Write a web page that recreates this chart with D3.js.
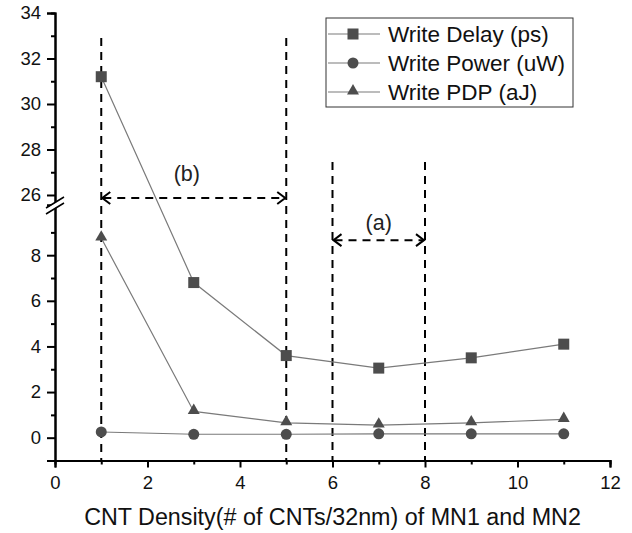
<!DOCTYPE html>
<meta charset="utf-8">
<script src="https://cdn.jsdelivr.net/npm/d3@7"></script>
<style>
  body { margin: 0; background: #fff; }
  text { font-family: Arial, "Liberation Sans", sans-serif; }
</style>
<body>
<script>

var width = 632
var height = 533

// data
var density = [1, 3, 5, 7, 9, 11]
var writeDelay = [31.2, 6.8, 3.6, 3.05, 3.5, 4.1]
var writePower = [0.25, 0.15, 0.15, 0.17, 0.17, 0.17]
var writePDP = [8.75, 1.15, 0.65, 0.55, 0.65, 0.8]
var seriesNames = ["Write Delay (ps)", "Write Power (uW)", "Write PDP (aJ)"]
var xTicks = [0, 2, 4, 6, 8, 10, 12]
var yTicksLow = [0, 2, 4, 6, 8]
var yTicksHigh = [26, 28, 30, 32, 34]

// annotation guides (x value, top value)
var guideX = [1, 5, 6, 8]
var guideTop = [32.9, 32.9, 27.45, 27.45]
var spans = [
  {from: 1, to: 5, y: 25.87, label: "(b)", lx: 2.85, ly: 26.6},
  {from: 6, to: 8, y: 8.66, label: "(a)", lx: 7.0, ly: 9.1}
]

var x = d3.scaleLinear().domain([0, 12]).range([55, 610])
var breakY = 205
var yUp = d3.scaleLinear().domain([25.56, 34]).range([breakY, 13])
var yLo = d3.scaleLinear().domain([-1, 10.2]).range([460.5, breakY])
function y(v) { return v > 17 ? yUp(v) : yLo(v) }

var svg = d3.select("body").append("svg")
  .attr("width", width).attr("height", height)

// guide lines
var guides = svg.append("g").attr("stroke", "#000").attr("stroke-width", 2)
  .attr("stroke-dasharray", "8,6").attr("fill", "none")
guideX.forEach(function(g, i) {
  guides.append("line").attr("x1", x(g)).attr("x2", x(g))
    .attr("y1", y(guideTop[i])).attr("y2", yLo(-1))
})
spans.forEach(function(s) {
  var yy = y(s.y), x1 = x(s.from), x2 = x(s.to)
  guides.append("line").attr("x1", x1 + 2).attr("x2", x2 - 2).attr("y1", yy).attr("y2", yy)
  svg.append("path")
    .attr("d", "M" + (x1 + 9) + "," + (yy - 6) + "L" + (x1 + 1) + "," + yy + "L" + (x1 + 9) + "," + (yy + 6)
      + "M" + (x2 - 9) + "," + (yy - 6) + "L" + (x2 - 1) + "," + yy + "L" + (x2 - 9) + "," + (yy + 6))
    .attr("stroke", "#000").attr("stroke-width", 2).attr("fill", "none")
  svg.append("text").attr("x", x(s.lx)).attr("y", y(s.ly))
    .attr("text-anchor", "middle").attr("font-size", 21.5).attr("fill", "#222").text(s.label)
})

// series
var lineGen = d3.line().x(function(d) { return x(d[0]) }).y(function(d) { return y(d[1]) })
var series = [writeDelay, writePower, writePDP]
var markerColor = "#4d4d4d"
var lineColor = "#7a7a7a"

function marker(g, type, cx, cy) {
  if (type == 0) {
    g.append("rect").attr("x", cx - 5.5).attr("y", cy - 5.5).attr("width", 11).attr("height", 11).attr("fill", markerColor)
  } else if (type == 1) {
    g.append("circle").attr("cx", cx).attr("cy", cy).attr("r", 5.5).attr("fill", markerColor)
  } else {
    g.append("path").attr("d", d3.symbol().type(d3.symbolTriangle).size(62)())
      .attr("transform", "translate(" + cx + "," + (cy - 1) + ")").attr("fill", markerColor)
  }
}

series.forEach(function(vals, k) {
  var pts = density.map(function(d, i) { return [d, vals[i]] })
  svg.append("path").attr("d", lineGen(pts)).attr("stroke", lineColor).attr("stroke-width", 1.2).attr("fill", "none")
  var g = svg.append("g")
  pts.forEach(function(p) { marker(g, k, x(p[0]), y(p[1])) })
})

// axes
svg.append("g").attr("transform", "translate(0," + yLo(-1) + ")")
  .call(d3.axisBottom(x).tickValues(xTicks).tickSize(7).tickPadding(8).tickFormat(d3.format("d")))
svg.append("g").attr("transform", "translate(0," + yLo(-1) + ")")
  .call(d3.axisBottom(x).tickValues([1, 3, 5, 7, 9, 11]).tickSize(4).tickFormat(""))

svg.append("g").attr("transform", "translate(" + x(0) + ",0)")
  .call(d3.axisLeft(yLo).tickValues(yTicksLow).tickSize(8).tickPadding(6))
svg.append("g").attr("transform", "translate(" + x(0) + ",0)")
  .call(d3.axisLeft(yLo).tickValues([1, 3, 5, 7, 9]).tickSize(4).tickFormat(""))
svg.append("g").attr("transform", "translate(" + x(0) + ",0)")
  .call(d3.axisLeft(yUp).tickValues(yTicksHigh).tickSize(8).tickPadding(6))
svg.append("g").attr("transform", "translate(" + x(0) + ",0)")
  .call(d3.axisLeft(yUp).tickValues([27, 29, 31, 33]).tickSize(4).tickFormat(""))

svg.selectAll(".domain").attr("stroke", "#000").attr("stroke-width", 2)
svg.selectAll(".tick line").attr("stroke", "#000").attr("stroke-width", 2)
svg.selectAll(".tick text").attr("font-size", 18.5).attr("fill", "#111")
  .attr("font-family", "Arial, 'Liberation Sans', sans-serif")

// break mark
var bx = x(0)
svg.append("path").attr("d", "M" + (bx - 8) + "," + (breakY + 8) + "L" + (bx + 8) + "," + (breakY - 2)
    + "L" + (bx + 8) + "," + (breakY - 7) + "L" + (bx - 8) + "," + (breakY + 3) + "Z")
  .attr("fill", "#fff")
svg.append("path").attr("d", "M" + (bx - 9) + "," + (breakY + 9) + "L" + (bx + 9) + "," + (breakY - 2)
    + "M" + (bx - 9) + "," + (breakY + 3) + "L" + (bx + 9) + "," + (breakY - 8))
  .attr("stroke", "#000").attr("stroke-width", 1.5)

// x title
svg.append("text").attr("x", 332.5).attr("y", 525).attr("text-anchor", "middle")
  .attr("font-size", 23.3).attr("fill", "#111").text("CNT Density(# of CNTs/32nm) of MN1 and MN2")

// legend
var legend = svg.append("g")
legend.append("rect").attr("x", 326).attr("y", 18).attr("width", 247).attr("height", 89)
  .attr("fill", "#fff").attr("stroke", "#333").attr("stroke-width", 1)
seriesNames.forEach(function(name, k) {
  var ly = 34 + k * 29
  legend.append("line").attr("x1", 328).attr("x2", 380).attr("y1", ly).attr("y2", ly)
    .attr("stroke", lineColor).attr("stroke-width", 1.2)
  marker(legend, k, 353, ly)
  legend.append("text").attr("x", 388).attr("y", ly + 7.5).attr("font-size", 22.5).attr("fill", "#111").text(name)
})

</script>
</body>
